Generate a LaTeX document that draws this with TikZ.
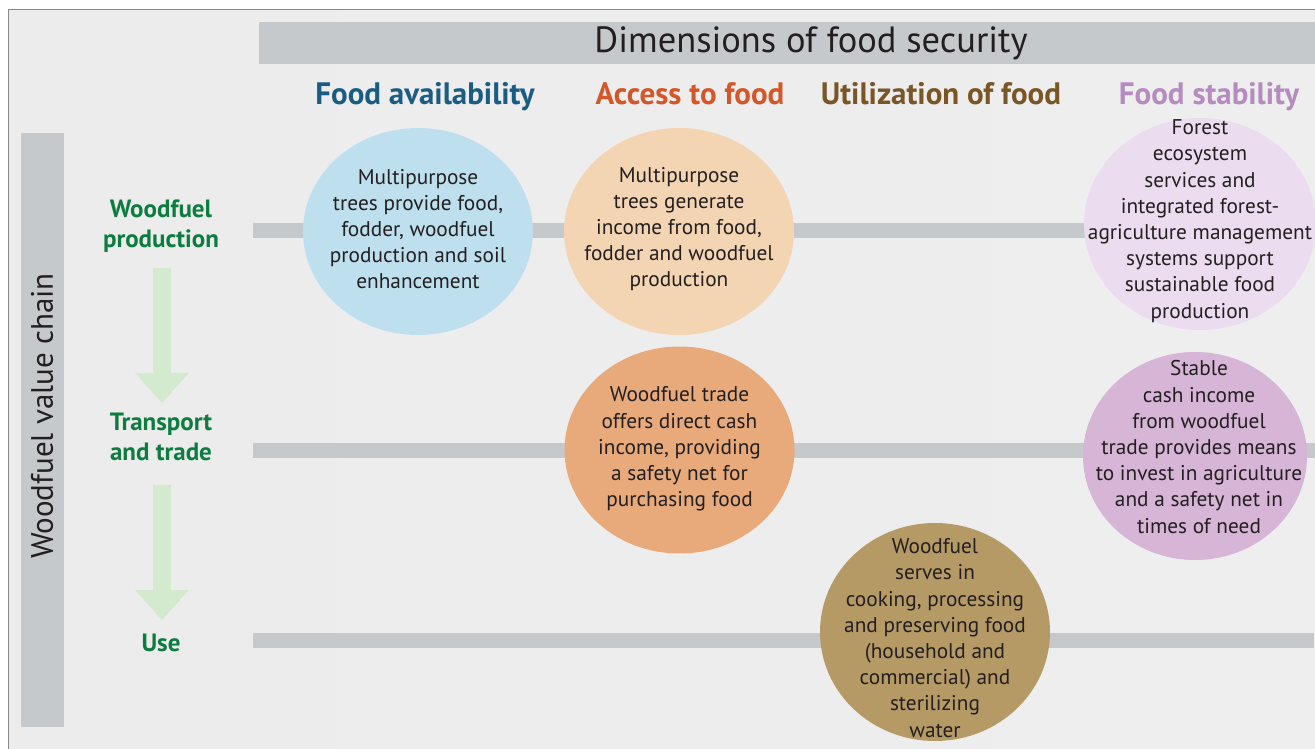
\documentclass[tikz,border=0pt]{standalone}
\usepackage{fontspec}
\setmainfont{PT Sans}
\usetikzlibrary{shapes.geometric,arrows.meta}
\definecolor{bgl}{HTML}{ECECED}
\definecolor{bgm}{HTML}{F5F6F7}
\definecolor{bgr}{HTML}{EEEEEF}
\definecolor{barg}{HTML}{C6C9CC}
\definecolor{framec}{HTML}{8A8A8A}
\definecolor{hblue}{HTML}{1B5C83}
\definecolor{horange}{HTML}{D4572A}
\definecolor{hbrown}{HTML}{7A5626}
\definecolor{hpurple}{HTML}{B68BC0}
\definecolor{rgreen}{HTML}{0D7D3F}
\definecolor{agreen}{HTML}{D3EACF}
\definecolor{cblue}{HTML}{BEE0EE}
\definecolor{cpeach}{HTML}{F3D5B3}
\definecolor{corange}{HTML}{E8AA7A}
\definecolor{cbrown}{HTML}{B59A66}
\definecolor{clilac}{HTML}{EBDDEF}
\definecolor{cpurple}{HTML}{D6B5D7}
\definecolor{txt}{HTML}{231F20}
\begin{document}
\begin{tikzpicture}[x=1pt,y=-1pt,
  bubble/.style={ellipse, minimum width=230pt, minimum height=207pt, inner sep=0pt, draw=none},
  bubtext/.style={align=center, text=txt, inner sep=0pt, font=\fontsize{21.3}{26.2}\selectfont},
  coltitle/.style={font=\bfseries\fontsize{31}{34}\selectfont, inner sep=0pt, anchor=base},
  rowlabel/.style={text=rgreen, font=\bfseries\fontsize{25}{30}\selectfont, align=center, inner sep=0pt},
  flow/.style={draw=agreen, line width=18pt, -{Triangle[width=52pt,length=30pt]}},
  greybar/.style={fill=barg, draw=none, inner sep=0pt}]
\useasboundingbox (0,0) rectangle (1315,749);
\fill[white] (0,0) rectangle (1315,749);
\shade[left color=bgl, middle color=bgm, right color=bgr] (8.5,9.5) rectangle (1315,749);
\draw[framec, line width=1.3pt] (8.5,749) -- (8.5,9.5) -- (1315,9.5);

% header bar
\node[greybar, minimum width=1056pt, minimum height=42pt, anchor=north west] (hdr) at (259,22) {};
\node[font=\fontsize{36.5}{40}\selectfont, text=txt, inner sep=0pt] (hdrt) at (811,43) {Dimensions of food security};

% left vertical bar
\node[greybar, minimum width=43pt, minimum height=594pt, anchor=north west] (vbar) at (21,133) {};
\node[font=\fontsize{31}{36}\selectfont, text=txt, inner sep=0pt, rotate=90] (vbart) at (42,416) {Woodfuel value chain};

% column titles
\node[coltitle, text=hblue] (fa) at (425,105) {Food availability};
\node[coltitle, text=horange] (af) at (690,105) {Access to food};
\node[coltitle, text=hbrown] (uf) at (941,105) {Utilization of food};
\node[coltitle, text=hpurple] (fs) at (1209,105) {Food stability};

% row labels
\node[rowlabel] (wp) at (161,226) {Woodfuel\\production};
\node[rowlabel] (tt) at (161,437) {Transport\\and trade};
\node[rowlabel] (us) at (161,643) {Use};

% tracks
\coordinate (t1s) at (253,230.5); \coordinate (t1e) at (1315,230.5);
\coordinate (t2s) at (253,450.5); \coordinate (t2e) at (1315,450.5);
\coordinate (t3s) at (253,640.5); \coordinate (t3e) at (1314,640.5);
\draw[barg, line width=15pt] (t1s) -- (t1e);
\draw[barg, line width=15pt] (t2s) -- (t2e);
\draw[barg, line width=15pt] (t3s) -- (t3e);

% flow arrows
\coordinate (a1s) at (162,268); \coordinate (a1e) at (162,403);
\coordinate (a2s) at (162,485); \coordinate (a2e) at (162,620);
\draw[flow] (a1s) -- (a1e);
\draw[flow] (a2s) -- (a2e);

% bubbles
\node[bubble, fill=cblue] (b1) at (418,231.5) {};
\node[bubtext] (b1t) at (418,229) {Multipurpose\\trees provide food,\\fodder, woodfuel\\production and soil\\enhancement};

\node[bubble, fill=cpeach] (b2) at (679,231.5) {};
\node[bubtext] (b2t) at (679,229) {Multipurpose\\trees generate\\income from food,\\fodder and woodfuel\\production};

\node[bubble, fill=corange] (b3) at (679.5,450) {};
\node[bubtext] (b3t) at (679.5,449) {Woodfuel trade\\offers direct cash\\income, providing\\a safety net for\\purchasing food};

\node[bubble, fill=cbrown, minimum height=218pt] (b4) at (935,632) {};
\node[bubtext] (b4t) at (935,638) {Woodfuel\\serves in\\cooking, processing\\and preserving food\\(household and\\commercial) and\\sterilizing\\water};

\node[bubble, fill=clilac, minimum width=232pt, minimum height=212pt] (b5) at (1200,224) {};
\node[bubtext] (b5t) at (1200,221) {Forest\\ecosystem\\services and\\integrated forest-\\agriculture management\\systems support\\sustainable food\\production};

\node[bubble, fill=cpurple, minimum width=224pt, minimum height=208pt] (b6) at (1195,456) {};
\node[bubtext] (b6t) at (1199,447) {Stable\\cash income\\from woodfuel\\trade provides means\\to invest in agriculture\\and a safety net in\\times of need};
\end{tikzpicture}
\end{document}
